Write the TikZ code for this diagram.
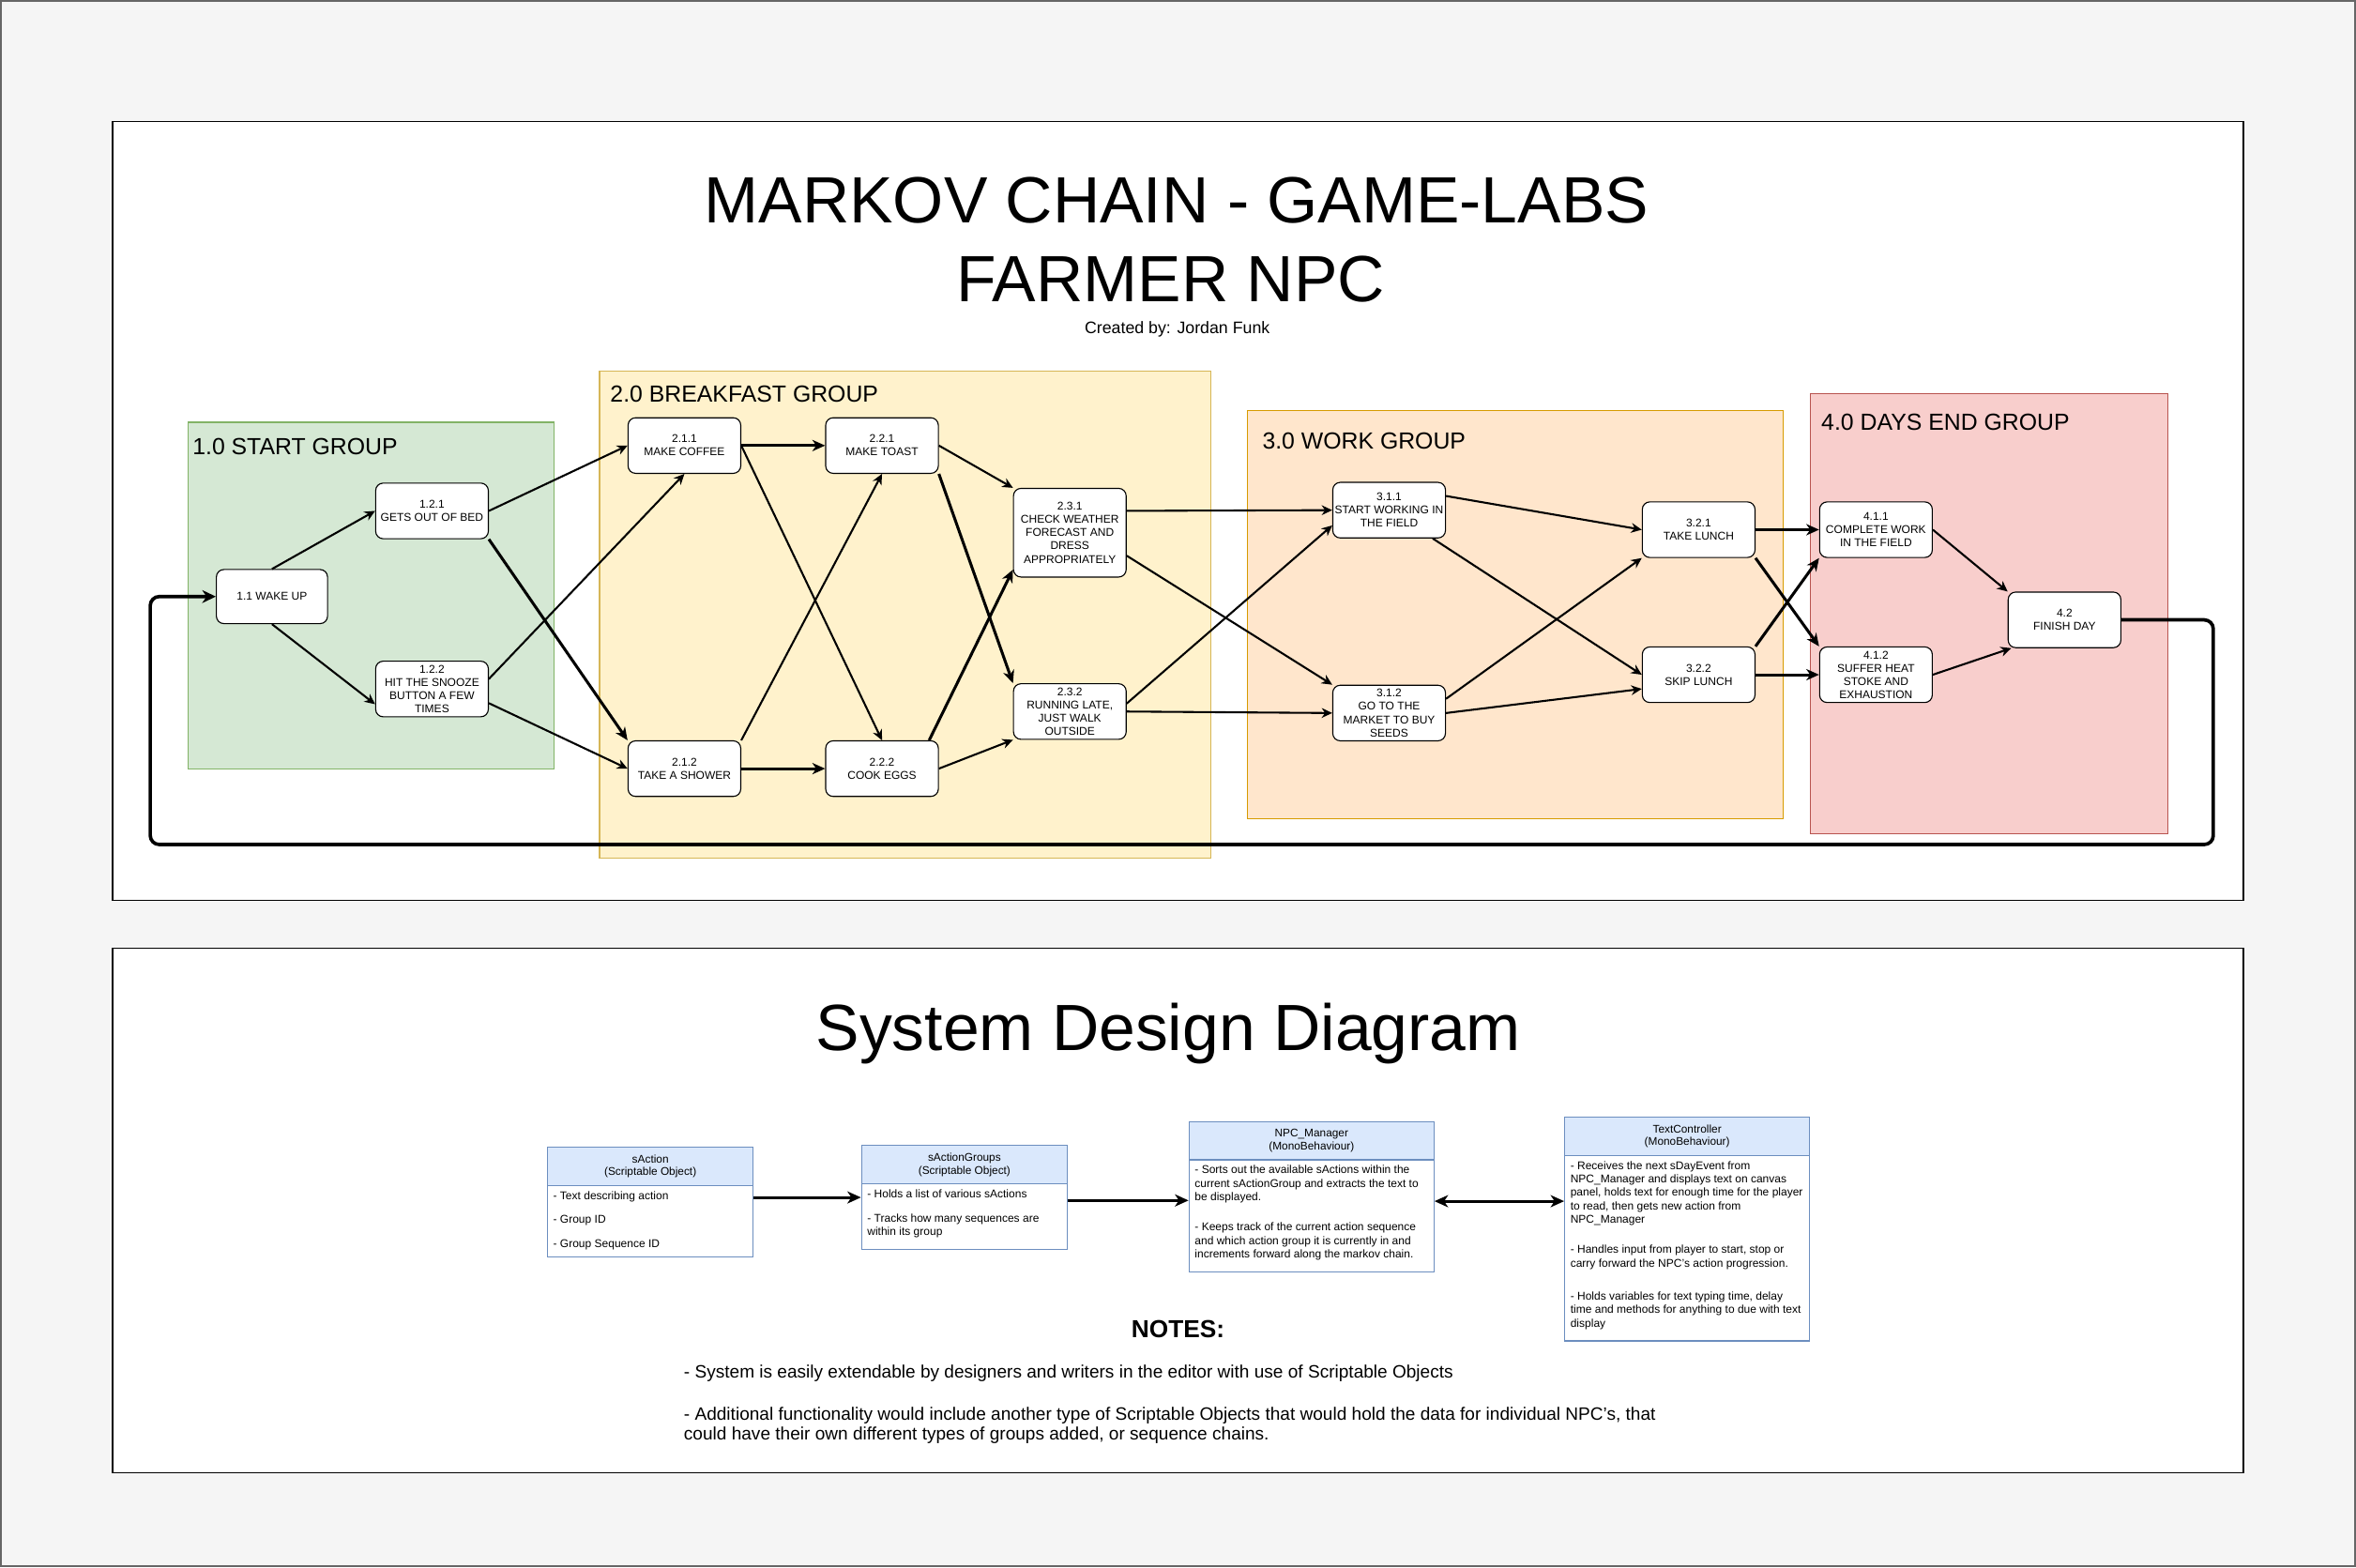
\documentclass[tikz,border=0pt]{standalone}
\usepackage{fontspec}
\setmainfont{Liberation Sans}
\usetikzlibrary{arrows.meta}
\definecolor{bgfill}{HTML}{F5F5F5}
\definecolor{bgline}{HTML}{666666}
\definecolor{startfill}{HTML}{D5E8D4}
\definecolor{startline}{HTML}{82B366}
\definecolor{breakfill}{HTML}{FFF2CC}
\definecolor{breakline}{HTML}{D6B656}
\definecolor{workfill}{HTML}{FFE6CC}
\definecolor{workline}{HTML}{D79B00}
\definecolor{endfill}{HTML}{F8CECC}
\definecolor{endline}{HTML}{B85450}
\definecolor{clsfill}{HTML}{DAE8FC}
\definecolor{clsline}{HTML}{6C8EBF}

\begin{document}
\begin{tikzpicture}[x=1pt, y=-1pt,
    panel/.style={draw=black, fill=white, line width=0.8pt},
    grp/.style={line width=0.7pt},
    grplabel/.style={anchor=base west, inner sep=0pt, font=\fontsize{15.5}{18}\selectfont},
    state/.style={draw, fill=white, rounded corners=5pt, minimum width=75pt, minimum height=37pt,
      inner sep=0pt, align=center, line width=0.7pt, font=\fontsize{7.5}{8.8}\selectfont},
    link/.style={line width=1.3pt, -{Stealth[length=7pt, width=6.5pt, inset=2.2pt]}},
    boldlink/.style={line width=1.9pt, -{Stealth[length=8.5pt, width=7.5pt, inset=2.6pt]}},
    looplink/.style={line width=2.3pt, rounded corners=6pt, -{Stealth[length=9pt, width=8.5pt, inset=2.8pt]}},
    clsbox/.style={draw=clsline, fill=white, line width=0.7pt, inner sep=0pt, anchor=north west},
    clshead/.style={draw=clsline, fill=clsfill, line width=0.7pt, inner sep=0pt, minimum height=25.5pt,
      align=center, anchor=north west, font=\fontsize{7.4}{8.6}\selectfont},
    clstext/.style={inner xsep=4pt, inner ysep=3.3pt, align=left, anchor=north west,
      font=\fontsize{7.5}{9}\selectfont},
    clslink/.style={line width=1.8pt, -{Stealth[length=9pt, width=8pt, inset=2.6pt]}},
    bigtitle/.style={anchor=base, inner sep=0pt, font=\fontsize{43.5}{52}\selectfont},
    notetext/.style={anchor=base west, inner sep=0pt, font=\fontsize{11.9}{13.2}\selectfont}]
      \useasboundingbox (0,0) rectangle (1568,1043);
      \fill[bgfill] (0,0) rectangle (1568,1043);
      \draw[bgline, line width=1.2pt] (0.6,0.6) rectangle (1567.4,1042.4);
      \draw[panel] (75,81) rectangle (1493,599);
      \draw[panel] (75,631) rectangle (1493,980);

      \node[bigtitle] (title1) at (783,148.5) {MARKOV CHAIN - GAME-LABS};
      \node[bigtitle] (title2) at (779,200.5) {FARMER NPC};
      \node[anchor=base, inner sep=0pt, font=\fontsize{11.1}{13}\selectfont] (credit) at (783.5,222) {Created by: Jordan Funk};

      \draw[grp, draw=startline, fill=startfill] (125,281) rectangle (369,512);
      \draw[grp, draw=breakline, fill=breakfill] (399,247) rectangle (806,571);
      \draw[grp, draw=workline, fill=workfill] (830,273) rectangle (1187,545);
      \draw[grp, draw=endline, fill=endfill] (1205,262) rectangle (1443,555);
      \node[grplabel] (g1) at (128,302.5) {1.0 START GROUP};
      \node[grplabel] (g2) at (406,267.5) {2.0 BREAKFAST GROUP};
      \node[grplabel] (g3) at (840,298.5) {3.0 WORK GROUP};
      \node[grplabel] (g4) at (1212,286.5) {4.0 DAYS END GROUP};

      \node[state, minimum width=74pt, minimum height=36pt] (n11) at (181,397) {1.1 WAKE UP};
      \node[state] (n121) at (287.5,340) {1.2.1\\GETS OUT OF BED};
      \node[state] (n122) at (287.5,458.5) {1.2.2\\HIT THE SNOOZE\\BUTTON A FEW\\TIMES};
      \node[state] (n211) at (455.5,296.5) {2.1.1\\MAKE COFFEE};
      \node[state] (n212) at (455.5,511.5) {2.1.2\\TAKE A SHOWER};
      \node[state] (n221) at (587,296.5) {2.2.1\\MAKE TOAST};
      \node[state] (n222) at (587,511.5) {2.2.2\\COOK EGGS};
      \node[state, minimum height=59pt] (n231) at (712,354.5) {2.3.1\\CHECK WEATHER\\FORECAST AND\\DRESS\\APPROPRIATELY};
      \node[state] (n232) at (712,473.5) {2.3.2\\RUNNING LATE,\\JUST WALK\\OUTSIDE};
      \node[state] (n311) at (924.5,339.5) {3.1.1\\START WORKING IN\\THE FIELD};
      \node[state] (n312) at (924.5,474.5) {3.1.2\\GO TO THE\\MARKET TO BUY\\SEEDS};
      \node[state] (n321) at (1130.5,352.5) {3.2.1\\TAKE LUNCH};
      \node[state] (n322) at (1130.5,449) {3.2.2\\SKIP LUNCH};
      \node[state] (n411) at (1248.5,352.5) {4.1.1\\COMPLETE WORK\\IN THE FIELD};
      \node[state] (n412) at (1248.5,449) {4.1.2\\SUFFER HEAT\\STOKE AND\\EXHAUSTION};
      \node[state] (n42) at (1374,412.5) {4.2\\FINISH DAY};

      \draw[link] (n11.north) -- (n121.west);
      \draw[link] (n11.south) -- (n122.195);
      \draw[link] (n121.east) -- (n211.west);
      \draw[boldlink] (n121.south east) -- (n212.north west);
      \draw[link] (n122.10) -- (n211.south);
      \draw[link] (n122.-14) -- (n212.west);
      \draw[boldlink] (n211.east) -- (n221.west);
      \draw[link] (n211.east) -- (n222.north);
      \draw[link] (n212.north east) -- (n221.south);
      \draw[boldlink] (n212.east) -- (n222.west);
      \draw[link] (n221.east) -- (n231.north west);
      \draw[boldlink] (n221.south east) -- (n232.north west);
      \draw[boldlink] (n222.31) -- (n231.213);
      \draw[link] (n222.east) -- (n232.south west);
      \draw[link] (n231.21) -- (n311.west);
      \draw[link] (n231.-22) -- (n312.north west);
      \draw[link] (n232.8) -- (n311.195);
      \draw[link] (n232.east) -- (n312.west);
      \draw[link] (n311.14) -- (n321.west);
      \draw[link] (n311.-33) -- (n322.west);
      \draw[link] (n312.14) -- (n321.south west);
      \draw[link] (n312.east) -- (n322.194);
      \draw[boldlink] (n321.east) -- (n411.west);
      \draw[boldlink] (n321.south east) -- (n412.north west);
      \draw[boldlink] (n322.north east) -- (n411.south west);
      \draw[boldlink] (n322.east) -- (n412.west);
      \draw[link] (n411.east) -- (n42.north west);
      \draw[link] (n412.east) -- (n42.208);
      \coordinate (loopr) at (1473,562);
      \coordinate (loopl) at (100,562);
      \draw[looplink] (n42.east) -| (loopr) -- (loopl) |- (n11.west);

      \node[bigtitle] (sysdesign) at (777.5,699) {System Design Diagram};

      \node[clsbox, minimum width=137pt, minimum height=73pt] (sact) at (364,763) {};
      \node[clshead, minimum width=137pt] (sacthead) at (sact.north west) {sAction\\(Scriptable Object)};
      \node[clstext] (sacttext) at (sacthead.south west) {- Text describing action\\[7pt]- Group ID\\[7pt]- Group Sequence ID};

      \node[clsbox, minimum width=137pt, minimum height=69pt] (sgrp) at (573,762) {};
      \node[clshead, minimum width=137pt] (sgrphead) at (sgrp.north west) {sActionGroups\\(Scriptable Object)};
      \node[clstext] (sgrptext) at (sgrphead.south west) {- Holds a list of various sActions\\[7pt]- Tracks how many sequences are\\within its group};

      \node[clsbox, minimum width=163pt, minimum height=100pt] (npcm) at (791,746) {};
      \node[clshead, minimum width=163pt] (npcmhead) at (npcm.north west) {NPC\_Manager\\(MonoBehaviour)};
      \node[clstext] (npcmtext) at (npcmhead.south west) {- Sorts out the available sActions within the\\current sActionGroup and extracts the text to\\be displayed.\\[11pt]- Keeps track of the current action sequence\\and which action group it is currently in and\\increments forward along the markov chain.};

      \node[clsbox, minimum width=163pt, minimum height=149pt] (txtc) at (1041,743) {};
      \node[clshead, minimum width=163pt] (txtchead) at (txtc.north west) {TextController\\(MonoBehaviour)};
      \node[clstext] (txtctext) at (txtchead.south west) {- Receives the next sDayEvent from\\NPC\_Manager and displays text on canvas\\panel, holds text for enough time for the player\\to read, then gets new action from\\NPC\_Manager\\[11pt]- Handles input from player to start, stop or\\carry forward the NPC's action progression.\\[13pt]- Holds variables for text typing time, delay\\time and methods for anything to due with text\\display};

      \draw[clslink] ([yshift=3pt]sact.east) -- ([yshift=3pt]sact.east -| sgrp.west);
      \draw[clslink] ([yshift=-2pt]sgrp.east) -- ([yshift=-2pt]sgrp.east -| npcm.west);
      \draw[clslink, {Stealth[length=9pt, width=8pt, inset=2.6pt]}-{Stealth[length=9pt, width=8pt, inset=2.6pt]}] ([yshift=-3pt]npcm.east) -- ([yshift=-3pt]npcm.east -| txtc.west);

      \node[anchor=base, inner sep=0pt, font=\fontsize{16.4}{19}\selectfont\bfseries] (notes) at (784,890) {NOTES:};
      \node[notetext] (note1) at (455,917) {- System is easily extendable by designers and writers in the editor with use of Scriptable Objects};
      \node[notetext] (note2) at (455,945) {- Additional functionality would include another type of Scriptable Objects that would hold the data for individual NPC's, that};
      \node[notetext] (note3) at (455,958) {could have their own different types of groups added, or sequence chains.};
\end{tikzpicture}
\end{document}
